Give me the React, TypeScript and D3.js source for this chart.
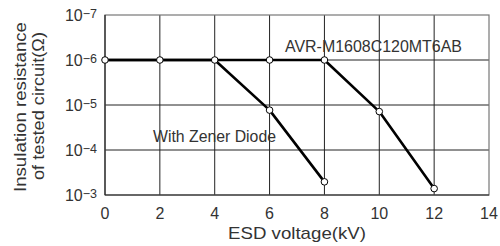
import React from "react";
import * as d3 from "d3";

const xTicks = [0, 2, 4, 6, 8, 10, 12, 14];
const yExponents = [-7, -6, -5, -4, -3];
const avrX = [0, 2, 4, 6, 8, 10, 12];
const avrY = [1e-6, 1e-6, 1e-6, 1e-6, 1e-6, 1.4e-5, 7.2e-4];
const zenerX = [0, 2, 4, 6, 8];
const zenerY = [1e-6, 1e-6, 1e-6, 1.3e-5, 5.1e-4];

const W = 500, H = 246;
const L = 105, R = 489, T = 15, B = 195;

export default function App() {
  const x = d3.scaleLinear().domain([0, 14]).range([L, R]);
  const y = d3.scaleLog().domain([1e-7, 1e-3]).range([T, B]);
  const line = d3.line<[number, number]>().x(d => x(d[0])).y(d => y(d[1]));
  const avr: [number, number][] = avrX.map((v, i) => [v, avrY[i]]);
  const zen: [number, number][] = zenerX.map((v, i) => [v, zenerY[i]]);
  const font = "'Liberation Sans', Arial, sans-serif";
  const tc = "#333";
  return (
    <svg width={W} height={H} style={{ position: "absolute", left: 0, top: 0, background: "#fff" }} fontFamily={font}>
      {xTicks.slice(1, -1).map(t => (
        <line key={"gx" + t} x1={x(t)} x2={x(t)} y1={T} y2={B} stroke="#222" strokeWidth={1} />
      ))}
      {yExponents.slice(1, -1).map(e => (
        <line key={"gy" + e} x1={L} x2={R} y1={y(Math.pow(10, e))} y2={y(Math.pow(10, e))} stroke="#222" strokeWidth={1} />
      ))}
      <rect x={L} y={T} width={R - L} height={B - T} fill="none" stroke="#777" strokeWidth={1.2} />
      <line x1={L} x2={R} y1={B} y2={B} stroke="#222" strokeWidth={1.2} />
      <line x1={L} x2={L} y1={T} y2={B} stroke="#222" strokeWidth={1.2} />
      <path d={line(zen) || ""} fill="none" stroke="#000" strokeWidth={2.6} strokeLinejoin="round" />
      <path d={line(avr) || ""} fill="none" stroke="#000" strokeWidth={2.6} strokeLinejoin="round" />
      {[...avr, ...zen.slice(3)].map((d, i) => (
        <circle key={"p" + i} cx={x(d[0])} cy={y(d[1])} r={3.3} fill="#fff" stroke="#000" strokeWidth={1} />
      ))}
      {xTicks.map(t => (
        <text key={"tx" + t} x={x(t)} y={219} textAnchor="middle" fontSize={16} fill={tc}>{t}</text>
      ))}
      {yExponents.map(e => (
        <text key={"ty" + e} x={97} y={y(Math.pow(10, e)) + 5.7} textAnchor="end" fontSize={16} fill={tc}>
          10<tspan fontSize={12.5} dy={-3}>{"\u2212" + Math.abs(e)}</tspan>
        </text>
      ))}
      <text x={297} y={239} textAnchor="middle" fontSize={17} textLength={138} lengthAdjust="spacingAndGlyphs" fill={tc}>ESD voltage(kV)</text>
      <text transform="translate(26,107) rotate(-90)" textAnchor="middle" fontSize={17} textLength={170} lengthAdjust="spacingAndGlyphs" fill={tc}>Insulation resistance</text>
      <text transform="translate(44,106) rotate(-90)" textAnchor="middle" fontSize={17} textLength={148} lengthAdjust="spacingAndGlyphs" fill={tc}>of tested circuit(Ω)</text>
      <text x={285} y={51.5} fontSize={16} textLength={177} lengthAdjust="spacingAndGlyphs" fill={tc}>AVR-M1608C120MT6AB</text>
      <text x={153} y={141.5} fontSize={16} textLength={123} lengthAdjust="spacingAndGlyphs" fill={tc}>With Zener Diode</text>
    </svg>
  );
}
